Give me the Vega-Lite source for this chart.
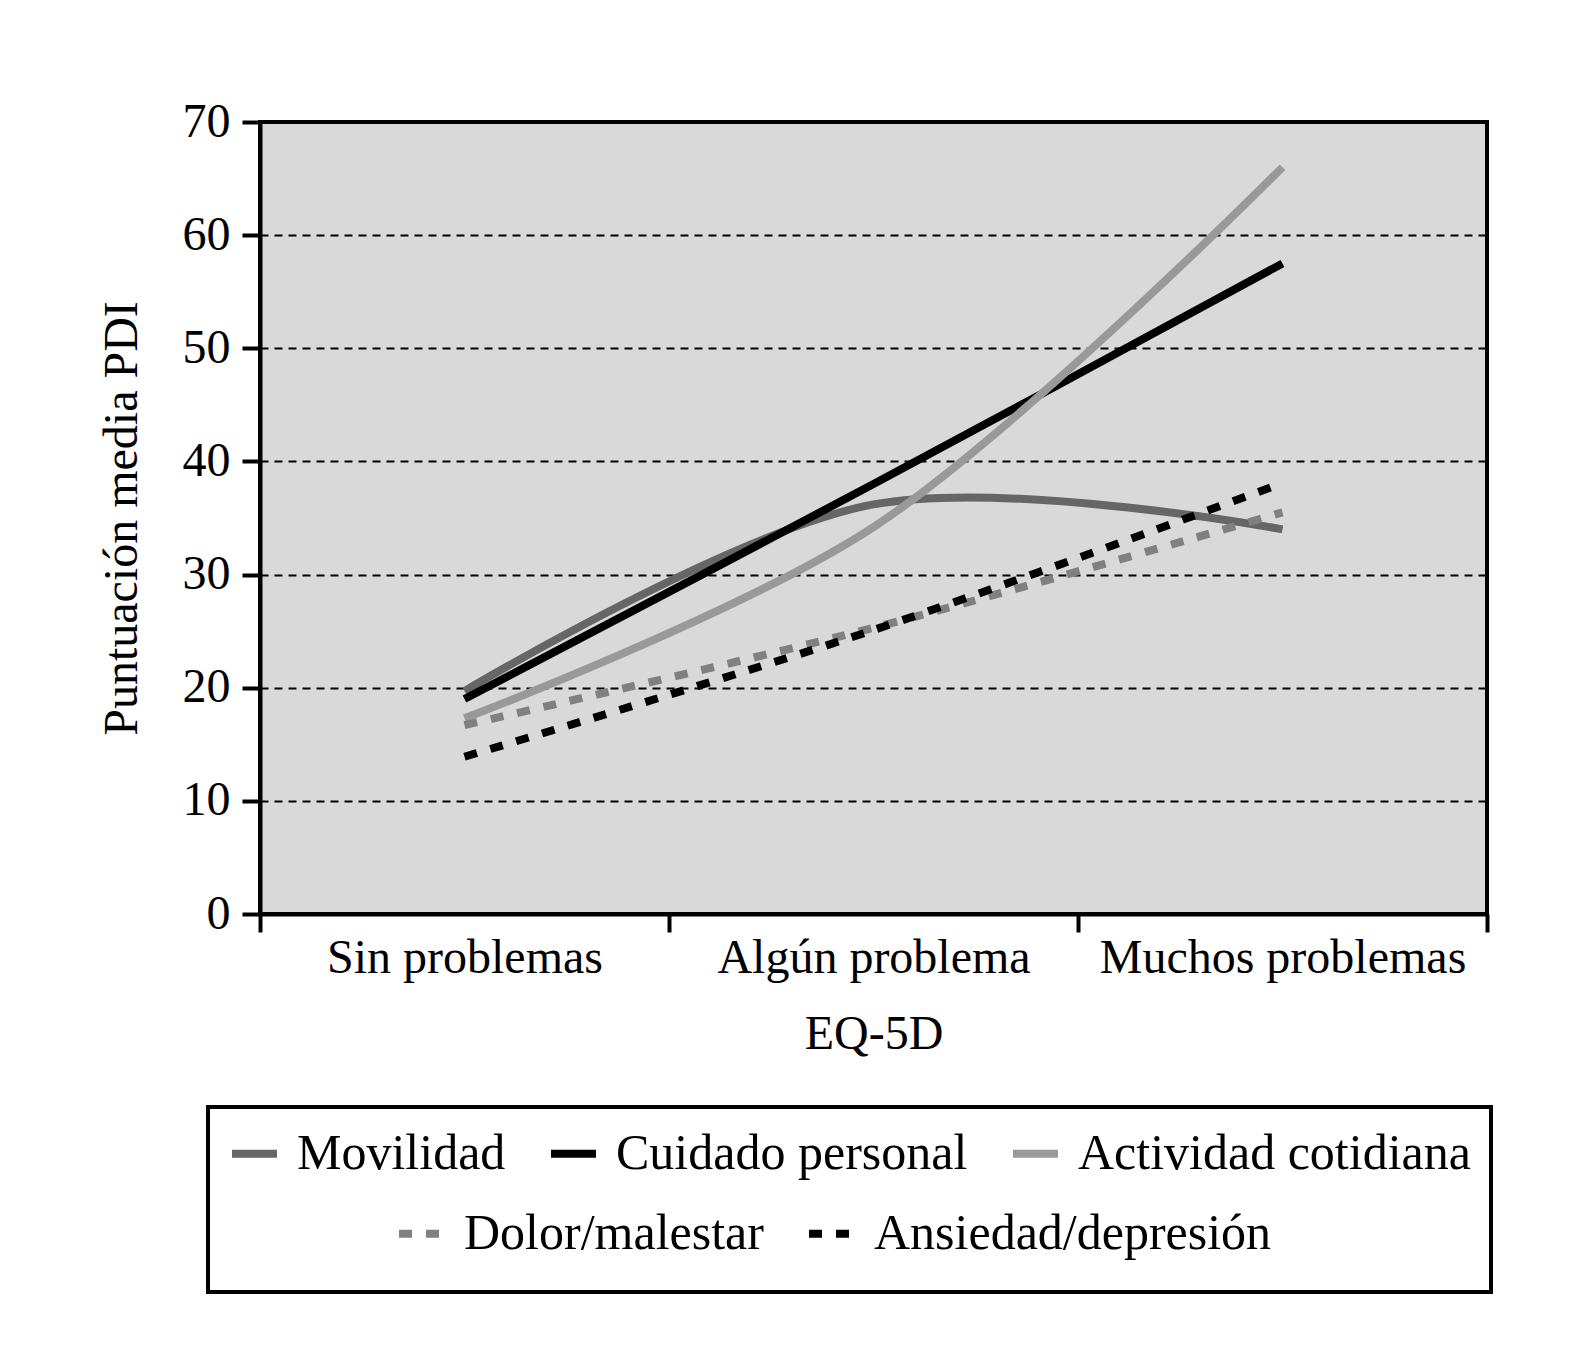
{
  "$schema": "https://vega.github.io/schema/vega-lite/v6.json",
  "width": 1227,
  "height": 792,
  "autosize": {"type": "none"},
  "padding": {"left": 260, "top": 122, "right": 93, "bottom": 446},
  "background": "white",
  "config": {
    "font": "Liberation Serif",
    "view": {"fill": "#d9d9d9", "stroke": "black", "strokeWidth": 4},
    "axis": {
      "labelFont": "Liberation Serif",
      "labelFontSize": 48,
      "labelColor": "black",
      "labelLimit": 1000,
      "titleFont": "Liberation Serif",
      "titleFontSize": 48,
      "titleFontWeight": "normal",
      "titleColor": "black",
      "domainColor": "black",
      "domainWidth": 4,
      "tickColor": "black",
      "tickWidth": 4,
      "tickSize": 18
    },
    "legend": {
      "labelFont": "Liberation Serif",
      "labelFontSize": 50,
      "labelColor": "black",
      "labelOffset": 16,
      "labelLimit": 800,
      "symbolType": "stroke",
      "symbolSize": 2025,
      "symbolStrokeWidth": 8,
      "columnPadding": 29
    }
  },
  "data": {
    "values": [
      {"serie": "Movilidad", "nivel": "Sin problemas", "valor": 19.7},
      {"serie": "Movilidad", "nivel": "Algún problema", "valor": 36.2},
      {"serie": "Movilidad", "nivel": "Muchos problemas", "valor": 34.0},
      {"serie": "Cuidado personal", "nivel": "Sin problemas", "valor": 19.0},
      {"serie": "Cuidado personal", "nivel": "Algún problema", "valor": 38.0},
      {"serie": "Cuidado personal", "nivel": "Muchos problemas", "valor": 57.5},
      {"serie": "Actividad cotidiana", "nivel": "Sin problemas", "valor": 17.3},
      {"serie": "Actividad cotidiana", "nivel": "Algún problema", "valor": 34.2},
      {"serie": "Actividad cotidiana", "nivel": "Muchos problemas", "valor": 66.0},
      {"serie": "Dolor/malestar", "nivel": "Sin problemas", "valor": 16.7},
      {"serie": "Dolor/malestar", "nivel": "Algún problema", "valor": 25.3},
      {"serie": "Dolor/malestar", "nivel": "Muchos problemas", "valor": 35.5},
      {"serie": "Ansiedad/depresión", "nivel": "Sin problemas", "valor": 13.9},
      {"serie": "Ansiedad/depresión", "nivel": "Algún problema", "valor": 25.1},
      {"serie": "Ansiedad/depresión", "nivel": "Muchos problemas", "valor": 38.1}
    ]
  },
  "encoding": {
    "x": {
      "field": "nivel",
      "type": "nominal",
      "sort": ["Sin problemas", "Algún problema", "Muchos problemas"],
      "scale": {"type": "band", "paddingInner": 0, "paddingOuter": 0},
      "bandPosition": 0.5,
      "axis": {
        "title": "EQ-5D",
        "labelAngle": 0,
        "tickBand": "extent",
        "labelPadding": 2,
        "titlePadding": 28,
        "grid": false
      }
    },
    "y": {
      "field": "valor",
      "type": "quantitative",
      "scale": {"domain": [0, 70], "nice": false},
      "axis": {
        "title": "Puntuación media PDI",
        "values": [0, 10, 20, 30, 40, 50, 60, 70],
        "grid": true,
        "gridColor": "black",
        "gridDash": [8, 6],
        "gridWidth": 2,
        "labelPadding": 12,
        "titlePadding": 36
      }
    }
  },
  "layer": [
    {
      "transform": [{"filter": {"field": "serie", "oneOf": ["Movilidad", "Cuidado personal", "Actividad cotidiana"]}}],
      "mark": {"type": "line", "strokeWidth": 8, "interpolate": "catmull-rom", "strokeCap": "butt"},
      "encoding": {
        "color": {
          "field": "serie",
          "type": "nominal",
          "scale": {
            "domain": ["Movilidad", "Cuidado personal", "Actividad cotidiana"],
            "range": ["#666666", "#000000", "#999999"]
          },
          "legend": {
            "orient": "none",
            "legendX": -52,
            "legendY": 985,
            "direction": "horizontal",
            "title": " ",
            "titleOrient": "bottom",
            "titleFontSize": 50,
            "titlePadding": 43,
            "padding": 20,
            "strokeColor": "black",
            "encode": {"legend": {"update": {"strokeWidth": {"value": 4}}}}
          }
        }
      }
    },
    {
      "transform": [{"filter": {"field": "serie", "oneOf": ["Dolor/malestar", "Ansiedad/depresión"]}}],
      "mark": {"type": "line", "strokeWidth": 8, "interpolate": "catmull-rom", "strokeCap": "butt"},
      "encoding": {
        "color": {
          "field": "serie",
          "type": "nominal",
          "scale": {
            "domain": ["Dolor/malestar", "Ansiedad/depresión"],
            "range": ["#808080", "#000000"]
          },
          "legend": {
            "orient": "none",
            "legendX": 135,
            "legendY": 1085,
            "direction": "horizontal",
            "title": null,
            "padding": 0,
            "encode": {"symbols": {"update": {"strokeDash": {"value": [10, 7]}}}}
          }
        },
        "strokeDash": {
          "field": "serie",
          "type": "nominal",
          "scale": {
            "domain": ["Dolor/malestar", "Ansiedad/depresión"],
            "range": [[13, 14], [13, 14]]
          }
        }
      }
    }
  ],
  "resolve": {
    "scale": {"color": "independent", "strokeDash": "independent"},
    "legend": {"color": "independent", "strokeDash": "independent"}
  }
}
